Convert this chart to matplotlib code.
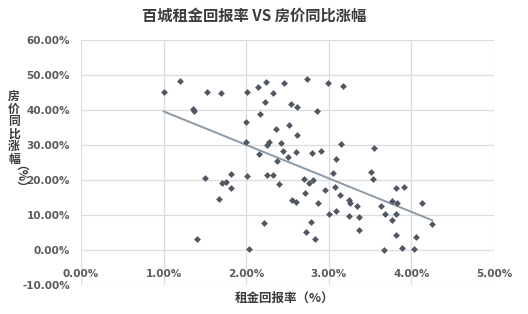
import numpy as np
import matplotlib
matplotlib.use("Agg")
import matplotlib.pyplot as plt

plt.rcParams['font.family'] = ['Noto Sans CJK SC', 'DejaVu Sans']

# rent yield (%) vs year-on-year house price change (%)
rent_yield = [
    1.00, 1.20, 1.36, 1.37, 1.53, 1.70, 2.01, 2.14, 2.24, 2.33,
    2.23, 2.17, 2.00, 2.36, 2.00, 2.27, 2.25, 2.16, 2.37, 1.50,
    1.82, 1.71, 1.76, 1.82, 2.01, 2.25, 2.33, 2.40, 1.67, 2.22,
    1.40, 2.03, 2.46, 2.74, 2.99, 3.17, 2.54, 2.61, 2.86, 2.52,
    2.61, 2.42, 2.45, 2.60, 2.51, 2.80, 2.91, 3.15, 3.55, 3.09,
    2.70, 2.76, 2.81, 3.05, 2.71, 2.95, 3.08, 3.14, 3.51, 3.53,
    3.81, 3.91, 2.56, 2.60, 2.87, 3.25, 3.26, 3.34, 3.63, 3.76,
    3.82, 4.13, 3.00, 3.09, 3.25, 3.37, 3.68, 3.81, 3.76, 2.79,
    4.25, 2.72, 2.83, 3.37, 3.81, 4.05, 3.67, 3.89, 4.03,
]
price_change = [
    45.1, 48.4, 40.2, 39.7, 45.1, 45.0, 45.2, 46.7, 48.0, 44.8,
    42.4, 39.0, 36.5, 34.6, 31.0, 31.0, 30.0, 27.3, 25.4, 20.5,
    21.6, 19.2, 19.5, 17.7, 21.2, 21.4, 21.3, 18.8, 14.7, 7.6,
    3.1, 0.2, 47.6, 49.0, 47.6, 46.9, 41.8, 40.9, 39.6, 35.7,
    32.9, 30.5, 28.3, 27.9, 26.7, 27.8, 28.2, 30.2, 29.1, 26.0,
    20.4, 19.2, 20.0, 21.9, 16.4, 17.2, 17.9, 15.7, 22.4, 20.3,
    17.6, 18.1, 14.3, 13.8, 13.3, 14.3, 13.4, 12.7, 12.7, 13.9,
    13.3, 13.4, 10.4, 11.2, 9.7, 9.5, 10.2, 10.2, 8.6, 7.9,
    7.5, 5.1, 3.2, 5.7, 4.4, 3.8, 0.0, 0.5, 0.4,
]

x_ticks = [0, 1, 2, 3, 4, 5]
y_ticks = [-10, 0, 10, 20, 30, 40, 50, 60]

fig = plt.figure(figsize=(5.28, 3.14), dpi=100)
ax = fig.add_axes([81 / 528, 1 - 285 / 314, (494 - 81) / 528, (285 - 40) / 314])

x = np.array(rent_yield)
y = np.array(price_change)
ax.scatter(x, y, marker='D', s=12, color='#4f5862', zorder=3, linewidths=0)

# linear trend line over the data range
k, b = np.polyfit(x, y, 1)
xs = np.array([x.min(), x.max()])
ax.plot(xs, k * xs + b, color='#8c99a6', lw=1.4, zorder=2)

ax.set_xlim(0, 5)
ax.set_ylim(-10, 60)
ax.set_xticks(x_ticks)
ax.set_yticks(y_ticks)
ax.set_xticklabels([f'{v:.2f}%' for v in x_ticks])
ax.set_yticklabels([f'{v:.2f}%' for v in y_ticks])
ax.grid(True, color='#dcdcdc', lw=0.9)
ax.set_axisbelow(True)
for s in ax.spines.values():
    s.set_visible(False)
ax.spines['bottom'].set_position(('data', 0))
ax.tick_params(length=0, labelsize=7.5, labelcolor='#5a5a5a')
ax.tick_params(axis='x', pad=14)
ax.tick_params(axis='y', pad=8)
for lab in ax.get_xticklabels() + ax.get_yticklabels():
    lab.set_fontweight('bold')
    lab.set_family('DejaVu Sans')

fig.text(254 / 528, 1 - 16 / 314, '百城租金回报率 VS 房价同比涨幅', ha='center', va='center',
         fontsize=11, fontweight='bold', color='#3c3c3c')
fig.text(285 / 528, 1 - 298 / 314, '租金回报率（%）', ha='center', va='center',
         fontsize=9, fontweight='bold', color='#3c3c3c')
fig.text(14 / 528, 1 - 128 / 314, '\n'.join('房价同比涨幅'), ha='center', va='center',
         fontsize=8.5, fontweight='bold', color='#3c3c3c', linespacing=0.95)
fig.text(14 / 528, 1 - 182 / 314, '（%）', ha='center', va='center', rotation=-90,
         fontsize=8.5, fontweight='bold', color='#3c3c3c')

fig.savefig('out.png', dpi=100, facecolor='white')
